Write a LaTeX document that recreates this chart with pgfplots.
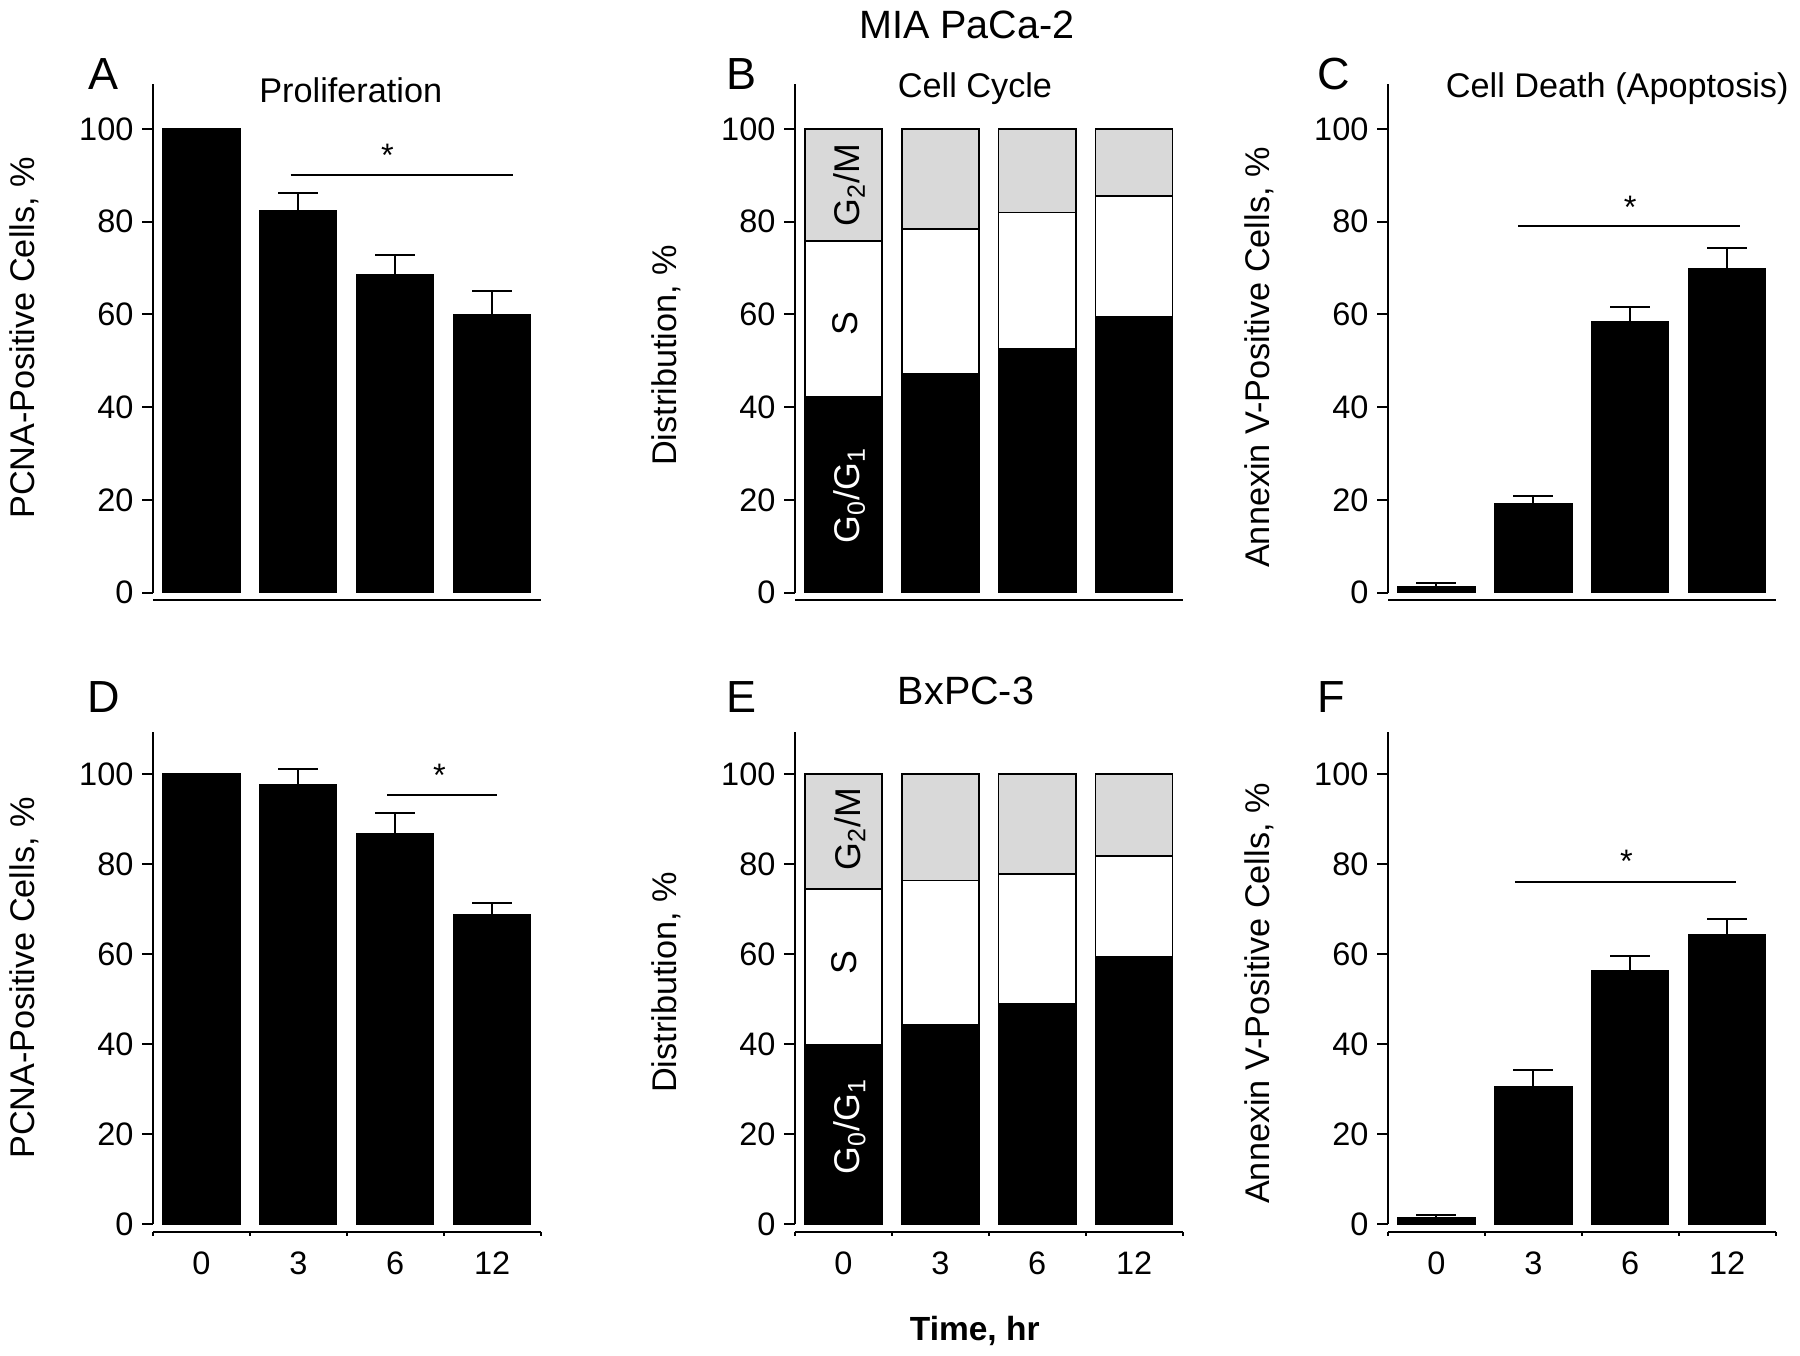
\documentclass[border=0pt]{standalone}
\usepackage{fontspec}
\setmainfont{Liberation Sans}
\usepackage{pgfplots}
\pgfplotsset{compat=1.18}

\newcommand{\fs}{\fontsize{13}{15}\selectfont}
\newcommand{\fl}{\fontsize{13.7}{16}\selectfont}
\pgfplotsset{
  base/.style={
    x=38.76pt,
    xmin=-0.5, xmax=3.5,
    enlargelimits=false,
    axis x line*=bottom, axis y line*=left,
    separate axis lines,
    axis line style={line width=0.8pt, black},
    tick align=outside,
    ytick={0,20,40,60,80,100},
    major tick length=4.3pt,
    minor tick length=1.4pt,
    minor xtick={-0.5,0.5,1.5,2.5,3.5},
    major x tick style={draw=none},
    every tick/.append style={black, line width=0.8pt},
    tick label style={font=\fs},
    /pgf/number format/assume math mode=true,
    ylabel style={font=\fl, anchor=center},
    clip=false,
  },
  ylpos/.style={ylabel style={at={(axis description cs:-0.333,#1)}}},
  toprow/.style={base, y=1.8548pt, ymin=-1.57, ymax=109.7, xtick=\empty,
    y axis line style={shorten <=2.92pt}},
  botrow/.style={base, y=1.8pt, ymin=-1.84, ymax=109.4, xtick={0,1,2,3},
    xticklabels={0,3,6,12}, y axis line style={shorten <=3.32pt}},
  barplot/.style={fill=black, draw=black, line width=0.5pt,
    error bars/.cd, y dir=plus, y explicit,
    error bar style={line width=0.8pt, black},
    error mark options={rotate=90, line width=0.8pt, black, mark size=8pt}},
}

\begin{document}
\begin{tikzpicture}
\path[use as bounding box] (0,0) rectangle (720pt,-542.4pt);

% ---------- A ----------
\begin{axis}[toprow, ybar, bar width=0.795, at={(61.2pt,-240pt)}, anchor=south west,
  ylpos=0.508, ylabel={PCNA-Positive Cells, \%}]
\addplot[barplot] coordinates {(0,100) +- (0,0) (1,82.5) +- (0,3.6) (2,68.5) +- (0,4.3) (3,59.9) +- (0,5.1)};
\draw[line width=0.8pt] (axis cs:0.921,90.0) -- (axis cs:3.213,90.0);
\node[font=\fs] at (axis cs:1.92,94.4) {*};
\end{axis}

% ---------- B ----------
\begin{axis}[toprow, ybar stacked, bar width=0.795, at={(318pt,-240pt)}, anchor=south west,
  ylpos=0.474, ylabel={Distribution, \%}]
\addplot[fill=black, draw=black, line width=0.6pt] coordinates {(0,42.2) (1,47.2) (2,52.7) (3,59.6)};
\addplot[fill=white, draw=black, line width=0.6pt] coordinates {(0,33.7) (1,31.2) (2,29.3) (3,26.0)};
\addplot[fill=black!15, draw=black, line width=0.6pt] coordinates {(0,24.1) (1,21.6) (2,18.0) (3,14.4)};
\coordinate (bG0) at (axis cs:0.06,21);
\coordinate (bS) at (axis cs:0.02,58);
\coordinate (bG2) at (axis cs:0.06,88);
\end{axis}
\node[font=\fontsize{14.3}{16}\selectfont, rotate=90, text=white] at (bG0) {G\textsubscript{0}/G\textsubscript{1}};
\node[font=\fontsize{14.3}{16}\selectfont, rotate=90] at (bS) {S};
\node[font=\fontsize{14.3}{16}\selectfont, rotate=90] at (bG2) {G\textsubscript{2}/M};

% ---------- C ----------
\begin{axis}[toprow, ybar, bar width=0.795, at={(555.2pt,-240pt)}, anchor=south west,
  ylpos=0.470, ylabel={Annexin V-Positive Cells, \%}]
\addplot[barplot] coordinates {(0,1.4) +- (0,0.8) (1,19.3) +- (0,1.5) (2,58.5) +- (0,3.1) (3,70.0) +- (0,4.4)};
\draw[line width=0.8pt] (axis cs:0.846,79.0) -- (axis cs:3.135,79.0);
\node[font=\fs] at (axis cs:2.0,83.2) {*};
\end{axis}

% ---------- D ----------
\begin{axis}[botrow, ybar, bar width=0.795, at={(61.2pt,-492.92pt)}, anchor=south west,
  ylpos=0.508, ylabel={PCNA-Positive Cells, \%}]
\addplot[barplot] coordinates {(0,100) +- (0,0) (1,97.6) +- (0,3.6) (2,86.7) +- (0,4.7) (3,68.7) +- (0,2.7)};
\draw[line width=0.8pt] (axis cs:1.916,95.4) -- (axis cs:3.054,95.4);
\node[font=\fs] at (axis cs:2.457,99.8) {*};
\end{axis}

% ---------- E ----------
\begin{axis}[botrow, ybar stacked, bar width=0.795, at={(318pt,-492.92pt)}, anchor=south west,
  ylpos=0.499, ylabel={Distribution, \%}]
\addplot[fill=black, draw=black, line width=0.6pt] coordinates {(0,39.9) (1,44.3) (2,48.9) (3,59.4)};
\addplot[fill=white, draw=black, line width=0.6pt] coordinates {(0,34.5) (1,32.0) (2,28.9) (3,22.4)};
\addplot[fill=black!15, draw=black, line width=0.6pt] coordinates {(0,25.6) (1,23.7) (2,22.2) (3,18.2)};
\coordinate (eG0) at (axis cs:0.065,21.7);
\coordinate (eS) at (axis cs:0.01,58.1);
\coordinate (eG2) at (axis cs:0.065,87.8);
\end{axis}
\node[font=\fontsize{14.3}{16}\selectfont, rotate=90, text=white] at (eG0) {G\textsubscript{0}/G\textsubscript{1}};
\node[font=\fontsize{14.3}{16}\selectfont, rotate=90] at (eS) {S};
\node[font=\fontsize{14.3}{16}\selectfont, rotate=90] at (eG2) {G\textsubscript{2}/M};

% ---------- F ----------
\begin{axis}[botrow, ybar, bar width=0.795, at={(555.2pt,-492.92pt)}, anchor=south west,
  ylpos=0.477, ylabel={Annexin V-Positive Cells, \%}]
\addplot[barplot] coordinates {(0,1.4) +- (0,0.5) (1,30.6) +- (0,3.6) (2,56.4) +- (0,3.2) (3,64.4) +- (0,3.3)};
\draw[line width=0.8pt] (axis cs:0.808,75.9) -- (axis cs:3.096,75.9);
\node[font=\fs] at (axis cs:1.96,80.7) {*};
\end{axis}

% ---------- texts ----------
\node[font=\fontsize{15.8}{18}\selectfont] at (386.7pt,-10.1pt) {MIA PaCa-2};
\node[font=\fontsize{15.8}{18}\selectfont] at (386.4pt,-276.4pt) {BxPC-3};
\foreach \l/\xx/\yy in {A/41.5/-29.6, B/296.5/-29.6, C/533.5/-29.6, D/41.5/-278.8, E/296.5/-278.8, F/532.5/-278.8}
  \node[font=\fontsize{18}{20}\selectfont] at (\xx pt,\yy pt) {\l};
\node[font=\fl] at (140.3pt,-36.2pt) {Proliferation};
\node[font=\fl] at (390pt,-35.5pt) {Cell Cycle};
\node[font=\fl] at (646.9pt,-35.6pt) {Cell Death (Apoptosis)};
\node[font=\fontsize{13.4}{15}\selectfont\bfseries] at (389.9pt,-532.4pt) {Time, hr};
\end{tikzpicture}
\end{document}
